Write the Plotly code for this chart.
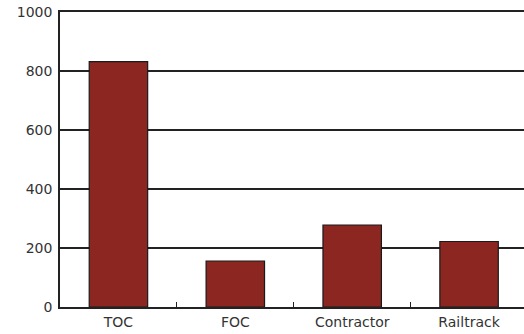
import plotly.graph_objects as go

# Incident counts by responsible party
categories = ["TOC", "FOC", "Contractor", "Railtrack"]
values = [832, 156, 278, 222]
y_ticks = [0, 200, 400, 600, 800, 1000]

fig = go.Figure(
    go.Bar(
        x=categories,
        y=values,
        width=0.5,
        marker=dict(color="#8B2621", line=dict(color="#1a1a1a", width=1.2)),
    )
)

fig.update_layout(
    width=524,
    height=334,
    margin=dict(l=60, r=0, t=12, b=27),
    paper_bgcolor="white",
    plot_bgcolor="white",
    showlegend=False,
    font=dict(family="DejaVu Sans, sans-serif", size=14, color="#333"),
)

fig.update_xaxes(
    range=[-0.5, 3.47],
    showline=True,
    mirror=True,
    linecolor="#222",
    linewidth=1.5,
    ticks="inside",
    tickson="boundaries",
    ticklen=5,
    tickcolor="#222",
    showgrid=False,
    ticklabelstandoff=1,
)

fig.update_yaxes(
    range=[0, 1000],
    tickvals=y_ticks,
    showline=True,
    linecolor="#222",
    linewidth=1.5,
    showgrid=True,
    gridcolor="#222",
    gridwidth=1.5,
    zeroline=False,
    ticks="",
    ticklabelstandoff=3,
)

fig.write_html("out.html")
